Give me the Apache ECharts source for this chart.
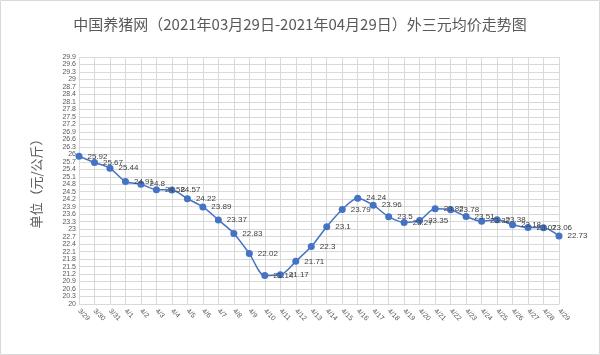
<!DOCTYPE html>
<html><head><meta charset="utf-8">
<script src="https://cdn.jsdelivr.net/npm/echarts@6/dist/echarts.min.js"></script>
<style>html,body{margin:0;padding:0;background:#fff}#c{width:600px;height:355px}</style>
</head><body><div id="c"></div>
<script>
var categories = ['3/29','3/30','3/31','4/1','4/2','4/3','4/4','4/5','4/6','4/7','4/8','4/9','4/10','4/11','4/12','4/13','4/14','4/15','4/16','4/17','4/18','4/19','4/20','4/21','4/22','4/23','4/24','4/25','4/26','4/27','4/28','4/29'];
var prices = [25.92,25.67,25.44,24.91,24.8,24.58,24.57,24.22,23.89,23.37,22.83,22.02,21.14,21.17,21.71,22.3,23.1,23.79,24.24,23.96,23.5,23.27,23.35,23.82,23.78,23.51,23.32,23.38,23.18,23.07,23.06,22.73];
var titleText = '中国养猪网（2021年03月29日-2021年04月29日）外三元均价走势图';
var yName = '单位（元/公斤）';
var yMin = 20, yMax = 29.9, yStep = 0.3;

var chart = echarts.init(document.getElementById('c'));
chart.setOption({
  animation: false,
  graphic: [{type:'rect', shape:{x:0.5,y:0.5,width:599,height:354}, style:{fill:'none', stroke:'#d9d9d9', lineWidth:1}, silent:true}],
  title: {text: titleText, left: 'center', top: 12,
    textStyle: {fontSize: 15, fontWeight: 'normal', color: '#595959', fontFamily: 'Noto Sans CJK SC'}},
  grid: {left: 79, right: 41, top: 57, bottom: 51},
  xAxis: {type: 'category', data: categories, boundaryGap: false,
    axisLine: {lineStyle: {color: '#d9d9d9'}}, axisTick: {show: false},
    splitLine: {show: true, lineStyle: {color: '#d9d9d9'}},
    axisLabel: {rotate: -45, fontSize: 7, color: '#595959', interval: 0, margin: 6, fontFamily: 'Liberation Sans'}},
  yAxis: {type: 'value', min: yMin, max: yMax, interval: yStep,
    name: yName, nameLocation: 'middle', nameGap: 36, nameRotate: 90,
    nameTextStyle: {fontSize: 13, color: '#595959', fontFamily: 'Noto Sans CJK SC'},
    axisLine: {show: false}, axisTick: {show: false},
    splitLine: {lineStyle: {color: '#d9d9d9'}},
    axisLabel: {fontSize: 7, lineHeight: 7, color: '#595959', margin: 3, fontFamily: 'Liberation Sans',
      showMinLabel: true, showMaxLabel: true, hideOverlap: false,
      formatter: function(v){ return String(Math.round(v*10)/10); }}},
  series: [{type: 'line', data: prices, smooth: 0.3, symbol: 'circle', symbolSize: 7,
    lineStyle: {color: '#4472C4', width: 1.5}, itemStyle: {color: '#4472C4'},
    label: {show: true, position: 'right', fontSize: 8, color: '#404040', distance: 5, fontFamily: 'Liberation Sans'}}]
});
</script></body></html>
